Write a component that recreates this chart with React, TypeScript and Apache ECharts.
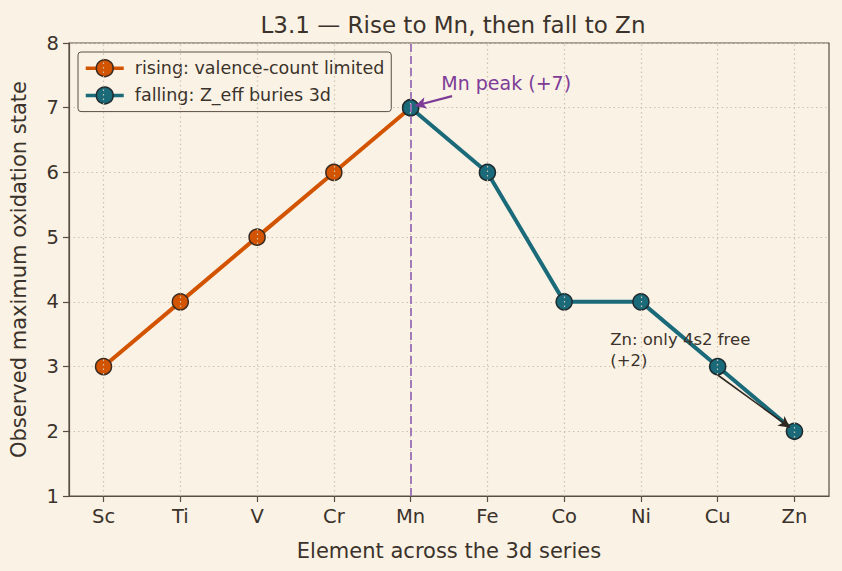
import React, { useEffect, useRef } from "react";
import * as echarts from "echarts";

const elements = ["Sc", "Ti", "V", "Cr", "Mn", "Fe", "Co", "Ni", "Cu", "Zn"];
const risingX = [0, 1, 2, 3, 4];
const risingY = [3, 4, 5, 6, 7];
const fallingX = [4, 5, 6, 7, 8, 9];
const fallingY = [7, 6, 4, 4, 3, 2];
const yTicks = [1, 2, 3, 4, 5, 6, 7, 8];

const TEXT = "#3b332b";
const AXIS = "#5a4e44";
const GRIDC = "#cdc3b2";
const FONT = "DejaVu Sans";

export default function App() {
  const ref = useRef<HTMLDivElement>(null);
  useEffect(() => {
    if (!ref.current) return;
    document.body.style.margin = "0";
    document.body.style.background = "#faf2e4";
    const chart = echarts.init(ref.current, undefined, { renderer: "svg" });
    const idx = elements.map((_, i) => i);
    const gridLineData = idx.map((i) => ({ xAxis: i }));
    const option: any = {
      animation: false,
      backgroundColor: "#faf2e4",
      textStyle: { fontFamily: FONT, color: TEXT },
      title: {
        text: "L3.1 — Rise to Mn, then fall to Zn",
        left: 448,
        textAlign: "center",
        top: 8,
        textStyle: { fontFamily: FONT, fontSize: 23, fontWeight: "normal", color: TEXT },
      },
      grid: {
        left: 68,
        right: 13,
        top: 43,
        bottom: 75,
        show: true,
        borderColor: AXIS,
        borderWidth: 1.2,
        backgroundColor: "#faf2e4",
      },
      legend: {
        orient: "vertical",
        left: 78,
        top: 52,
        padding: [7, 7, 7, 6],
        itemGap: 9,
        itemWidth: 38,
        itemHeight: 21,
        backgroundColor: "#faf2e4",
        borderColor: AXIS,
        borderWidth: 1,
        borderRadius: 3,
        lineStyle: { width: 3.5 },
        itemStyle: { borderWidth: 1.5 },
        textStyle: { fontFamily: FONT, fontSize: 17.5, color: TEXT, padding: [0, 0, 0, 6] },
        data: ["rising: valence-count limited", "falling: Z_eff buries 3d"],
      },
      xAxis: {
        type: "value",
        min: -0.45,
        max: 9.45,
        name: "Element across the 3d series",
        nameLocation: "middle",
        nameGap: 44,
        nameTextStyle: { fontFamily: FONT, fontSize: 21, color: TEXT },
        axisLine: { show: true, onZero: false, lineStyle: { color: AXIS, width: 1.2 } },
        axisTick: {
          show: true,
          customValues: idx,
          length: 6,
          lineStyle: { color: AXIS, width: 1.2 },
        },
        axisLabel: {
          customValues: idx,
          formatter: (v: number) => elements[Math.round(v)] ?? "",
          fontFamily: FONT,
          fontSize: 19.5,
          color: TEXT,
          margin: 10,
        },
        splitLine: { show: false },
      },
      yAxis: {
        type: "value",
        min: 1,
        max: 8,
        interval: 1,
        name: "Observed maximum oxidation state",
        nameLocation: "middle",
        nameGap: 40,
        nameTextStyle: { fontFamily: FONT, fontSize: 21, color: TEXT },
        axisLine: { show: true, onZero: false, lineStyle: { color: AXIS, width: 1.2 } },
        axisTick: { show: true, length: 6, lineStyle: { color: AXIS, width: 1.2 } },
        axisLabel: {
          fontFamily: FONT,
          fontSize: 19.5,
          color: TEXT,
          margin: 10,
          formatter: (v: number) => (yTicks.includes(v) ? String(v) : ""),
        },
        splitLine: { show: true, lineStyle: { color: GRIDC, type: [1.5, 3], width: 1.2 } },
      },
      series: [
        {
          name: "grid",
          type: "line",
          data: [],
          z: 1,
          silent: true,
          markLine: {
            silent: true,
            symbol: ["none", "none"],
            label: { show: false },
            lineStyle: { color: GRIDC, type: [1.5, 3], width: 1.2 },
            data: gridLineData,
          },
        },
        {
          name: "mnline",
          type: "line",
          data: [],
          z: 2,
          silent: true,
          markLine: {
            silent: true,
            symbol: ["none", "none"],
            label: { show: false },
            lineStyle: { color: "#9b6fb5", type: [8, 4], width: 2, opacity: 0.9 },
            data: [{ xAxis: 4 }],
          },
        },
        {
          name: "rising: valence-count limited",
          type: "line",
          z: 3,
          data: risingX.map((x, i) => [x, risingY[i]]),
          symbol: "circle",
          symbolSize: 16,
          color: "#d35400",
          lineStyle: { color: "#d35400", width: 4 },
          itemStyle: { color: "#d35400", borderColor: "#3a2a20", borderWidth: 1.5 },
        },
        {
          name: "falling: Z_eff buries 3d",
          type: "line",
          z: 4,
          data: fallingX.map((x, i) => [x, fallingY[i]]),
          symbol: "circle",
          symbolSize: 16,
          color: "#1a6a7a",
          lineStyle: { color: "#1a6a7a", width: 4 },
          itemStyle: { color: "#1a6a7a", borderColor: "#1f2a2e", borderWidth: 1.5 },
          markLine: {
            silent: true,
            symbol: ["none", "arrow"],
            symbolSize: [9, 11],
            label: { show: false },
            data: [
              [
                { coord: [4.54, 7.18], lineStyle: { color: "#7d3c98", width: 2.2, type: "solid" } },
                { coord: [4.06, 7.03] },
              ],
              [
                { coord: [8.0, 2.87], lineStyle: { color: "#2e2620", width: 1.6, type: "solid" } },
                { coord: [8.94, 2.06] },
              ],
            ],
          },
          markPoint: {
            silent: true,
            symbol: "circle",
            symbolSize: 0,
            data: [
              {
                coord: [4.4, 7.38],
                label: {
                  show: true,
                  position: "right",
                  distance: 0,
                  formatter: "Mn peak (+7)",
                  fontFamily: FONT,
                  fontSize: 19,
                  color: "#7d3c98",
                },
              },
              {
                coord: [6.6, 3.25],
                label: {
                  show: true,
                  position: "right",
                  distance: 0,
                  formatter: "Zn: only 4s2 free\n(+2)",
                  fontFamily: FONT,
                  fontSize: 16.5,
                  lineHeight: 21,
                  color: TEXT,
                },
              },
            ],
          },
        },
      ],
    };
    chart.setOption(option);
    return () => chart.dispose();
  }, []);
  return (
    <div
      ref={ref}
      style={{ width: 842, height: 571, position: "fixed", left: 0, top: 0 }}
    />
  );
}
